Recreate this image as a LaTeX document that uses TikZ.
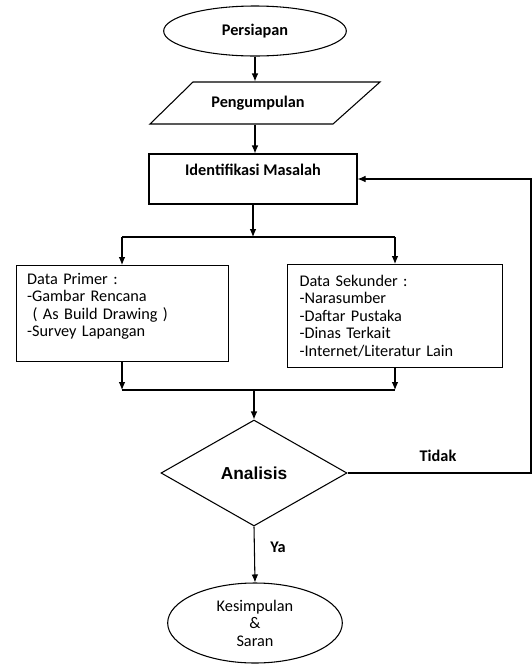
\documentclass[tikz,border=0pt]{standalone}
\usepackage{fontspec}
\setmainfont{Carlito}
\newfontfamily\arialfont{Liberation Sans}
\usepackage{tikz}
\usetikzlibrary{shapes.geometric}
\usetikzlibrary{arrows.meta}

\begin{document}
\begin{tikzpicture}[x = .75pt, y = -.75pt, line width = .8pt,
  font = \fontsize{12.2}{13.1}\selectfont,
  bold/.style = {font = \fontsize{12.2}{13.1}\selectfont\bfseries},
  terminal/.style = {draw, ellipse, inner sep = 0},
  databox/.style = {draw, rectangle, anchor = north west, align = left, inner xsep = 8pt, inner ysep = 0, text width = 143pt},
  arr/.style = {-{Latex[length = 6pt, width = 5pt]}}]
  \useasboundingbox (0, 0) rectangle (532, 665);
  \node[terminal, bold, minimum width = 137pt, minimum height = 37.5pt] (persiapan) at (255, 31) {Persiapan};
  \node[rectangle, minimum width = 140pt, minimum height = 31.5pt, inner sep = 0, bold] (pengumpulan) at (258, 103) {Pengumpulan};
  \draw (193, 82) -- (380, 82) -- (333, 124) -- (150, 124) -- cycle;
  \node[draw, rectangle, inner sep = 0, minimum width = 156pt, minimum height = 37.5pt, align = center, bold] (identifikasi) at (253, 179) {Identifikasi Masalah\\\mbox{}};
  \node[databox, minimum height = 72pt] (primer) at (16, 265) {Data Primer :\\-Gambar Rencana\\\ ( As Build Drawing )\\-Survey Lapangan\\\mbox{}};
  \node[databox, minimum height = 77pt, inner xsep = 9pt] (sekunder) at (287, 264) {Data Sekunder :\\-Narasumber\\-Daftar Pustaka\\-Dinas Terkait\\-Internet/Literatur Lain};
  \node[draw, diamond, minimum width = 139.5pt, minimum height = 79.5pt, inner sep = 0, font = \arialfont\fontsize{13}{15}\selectfont\bfseries] (analisis) at (254, 473) {Analisis};
  \node[terminal, minimum width = 131pt, minimum height = 60pt, align = center] (kesimpulan) at (255, 623) {Kesimpulan\\\&\\Saran};
  \node[bold] (tidak) at (438, 456) {Tidak};
  \node[bold] (ya) at (278, 547) {Ya};
  \coordinate (forkL) at (122, 237);
  \coordinate (forkR) at (395, 237);
  \coordinate (joinL) at (122, 390);
  \coordinate (joinR) at (395, 390);
  \coordinate (back) at (531, 473);
  % alur utama
  \draw[arr] (persiapan) -- (persiapan |- pengumpulan.north);
  \draw[arr] (pengumpulan.south -| persiapan) -- (persiapan |- identifikasi.north);
  \draw[arr] (identifikasi.south) -- (identifikasi.south |- forkL);
  \draw (forkL) -- (forkR);
  \draw[arr] (forkL) -- (forkL |- primer.north);
  \draw[arr] (forkR) -- (forkR |- sekunder.north);
  \draw[arr] (forkL |- primer.south) -- (joinL);
  \draw[arr] (forkR |- sekunder.south) -- (joinR);
  \draw (joinL) -- (joinR);
  \draw[arr] (analisis.north |- joinL) -- (analisis.north);
  \draw[arr] (analisis.south) -- (kesimpulan.north);
  % umpan balik
  \draw[arr] (analisis.east) -- (back) |- (identifikasi.east);
\end{tikzpicture}
\end{document}
